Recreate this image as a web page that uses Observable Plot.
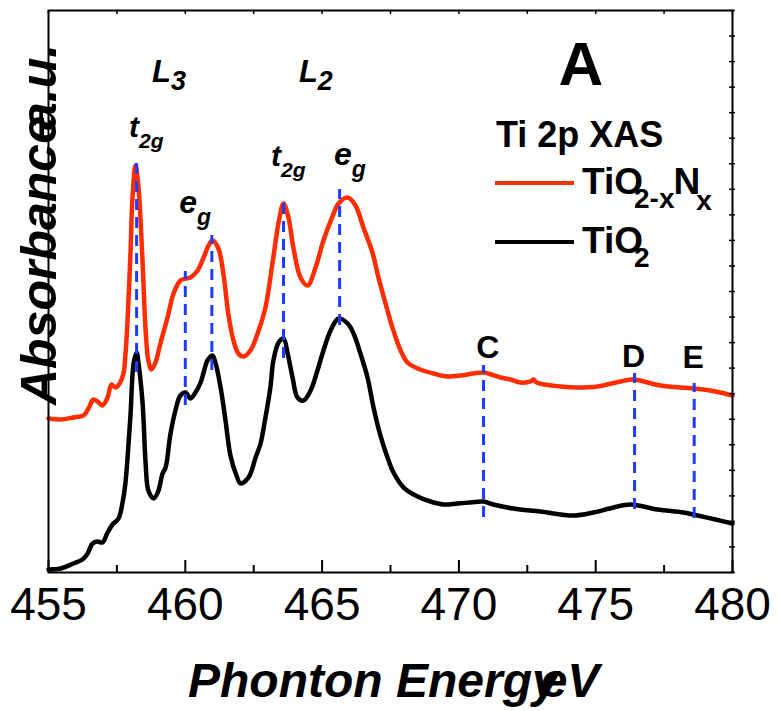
<!DOCTYPE html>
<html>
<head>
<meta charset="utf-8">
<script src="https://cdn.jsdelivr.net/npm/d3@7"></script>
<script src="https://cdn.jsdelivr.net/npm/@observablehq/plot@0.6"></script>
<style>
  body { margin: 0; background: #fff; }
  svg { display: block; }
</style>
</head>
<body>
<div id="chart"></div>
<script>
// Ti 2p XAS spectra (photon energy in eV, absorbance in arbitrary units)
const energyTiO2 = [455.00,455.44,455.91,456.24,456.43,456.61,456.79,456.97,457.16,457.34,457.56,457.70,457.81,457.89,458.00,458.11,458.22,458.29,458.44,458.55,458.65,458.84,459.00,459.17,459.28,459.46,459.64,459.82,460.01,460.19,460.37,460.56,460.67,460.81,460.99,461.10,461.29,461.47,461.65,461.87,462.02,462.31,462.57,462.75,462.93,463.11,463.22,463.41,463.59,463.74,463.92,464.10,464.32,464.58,464.83,465.05,465.31,465.60,465.93,466.15,466.40,466.66,466.88,467.13,467.39,467.61,467.98,468.49,468.96,469.44,469.95,470.42,470.90,471.26,471.99,472.98,474.19,474.92,475.65,476.27,477.26,478.21,478.72,479.38,480.00];
const absTiO2 = [0.53,0.71,1.60,2.31,3.38,5.16,5.52,5.34,7.12,8.54,9.61,12.28,15.84,20.46,28.29,37.19,39.15,37.19,30.07,19.40,14.59,13.17,14.30,17.62,18.68,24.73,28.83,31.49,32.03,30.96,32.03,33.81,35.59,37.72,38.61,37.37,32.92,27.05,20.82,17.26,15.84,16.90,20.46,22.95,27.58,32.92,37.72,40.93,41.64,38.97,34.70,31.14,30.60,32.38,35.94,39.50,43.06,45.20,44.31,42.53,38.97,34.70,29.36,24.38,20.46,17.79,15.12,13.52,12.63,12.10,12.28,12.46,12.63,12.10,11.39,10.85,10.14,10.68,11.57,12.10,11.21,10.68,10.14,9.43,8.72];

const energyTiO2N = [455.00,455.44,455.91,456.28,456.46,456.64,456.79,456.97,457.16,457.30,457.45,457.60,457.74,457.81,457.89,458.00,458.07,458.18,458.29,458.44,458.55,458.65,458.76,458.91,459.09,459.35,459.57,459.82,460.01,460.19,460.45,460.67,460.85,460.99,461.21,461.40,461.58,461.76,461.94,462.13,462.38,462.68,462.93,463.19,463.41,463.59,463.77,463.95,464.21,464.47,464.76,465.05,465.38,465.60,465.93,466.22,466.51,466.84,467.06,467.32,467.57,467.87,468.12,468.49,469.07,469.58,470.06,470.53,470.90,471.52,471.89,472.25,472.62,472.73,472.84,473.71,474.33,475.07,475.91,476.38,477.37,478.57,479.38,480.00];
const absTiO2N = [27.40,27.22,27.58,27.94,29.18,30.78,30.43,29.72,31.14,33.45,32.92,33.63,35.41,38.61,44.84,57.30,66.73,72.42,68.51,54.98,43.06,37.72,36.12,37.37,40.75,45.37,49.64,51.96,52.31,52.49,53.74,56.05,58.19,59.07,57.65,52.85,45.73,41.28,38.97,38.43,39.50,43.06,47.15,55.16,62.28,65.66,63.17,57.83,52.49,51.07,54.27,59.07,63.35,65.66,66.73,65.30,61.39,56.94,52.49,47.86,43.59,39.50,37.37,36.30,35.41,34.88,35.05,35.41,35.59,34.70,34.34,33.81,33.99,34.34,33.81,33.10,32.92,33.10,33.99,34.34,33.27,32.74,32.21,31.49];

// Marked spectral features (dashed guides)
const featureEnergy = [458.22, 460.0, 460.97, 463.59, 465.64, 470.9, 476.42, 478.6];
const featureTop    = [72.78, 53.56, 59.96, 66.55, 68.15, 36.83, 35.41, 33.63];
const featureBottom = [35.59, 29.72, 35.94, 38.08, 43.95, 9.79, 11.21, 9.61];

// Satellite feature letters
const satelliteNames  = ["C", "D", "E"];
const satelliteEnergy = [471.06, 476.38, 478.56];
const satelliteAbs    = [38.08, 36.48, 36.30];

// Axis ticks
const xTicks = [455, 460, 465, 470, 475, 480];
const xMinorTicks = [457.5, 462.5, 467.5, 472.5, 477.5];
const yTicks = d3.range(0, 22.5).map(i => i * 100 / 22);

const RED = "#ff2d00";
const BLUE = "#1e3cff";
const FONT = "'Liberation Sans', Arial, Helvetica, sans-serif";

const tio2 = energyTiO2.map((e, i) => ({e, a: absTiO2[i]}));
const tio2n = energyTiO2N.map((e, i) => ({e, a: absTiO2N[i]}));
const features = featureEnergy.map((e, i) => ({e, top: featureTop[i], bottom: featureBottom[i]}));

// tick lengths expressed in scale units (plot is 562 px tall for 100 units, 684 px wide for 25 eV)
const yPerPx = 100 / 562, xPerPx = 25 / 684;

const chart = Plot.plot({
  width: 778,
  height: 711,
  marginLeft: 48,
  marginRight: 46,
  marginTop: 10,
  marginBottom: 139,
  x: {domain: [455, 480], label: null},
  y: {domain: [0, 100], axis: null, label: null},
  style: {fontFamily: FONT, background: "white", color: "black", overflow: "visible"},
  marks: [
    Plot.line(tio2, {x: "e", y: "a", stroke: "black", strokeWidth: 4.5, curve: "catmull-rom"}),
    Plot.line(tio2n, {x: "e", y: "a", stroke: RED, strokeWidth: 4.5, curve: "catmull-rom"}),
    Plot.ruleX(features, {x: "e", y1: "bottom", y2: "top", stroke: BLUE, strokeWidth: 3, strokeDasharray: "11,7"}),
    Plot.frame({stroke: "black", strokeWidth: 2}),
    Plot.ruleX(xTicks, {y1: 0, y2: 12 * yPerPx, stroke: "black", strokeWidth: 2}),
    Plot.ruleX(xMinorTicks, {y1: 0, y2: 7 * yPerPx, stroke: "black", strokeWidth: 2}),
    Plot.ruleX([...xTicks, ...xMinorTicks], {y1: 100, y2: 100 - 4 * yPerPx, stroke: "black", strokeWidth: 1.5}),
    Plot.ruleY(yTicks, {x1: 480 - 3 * xPerPx, x2: 480 + 3 * xPerPx, stroke: "black", strokeWidth: 1.5}),
    Plot.axisX(xTicks, {tickSize: 0, tickPadding: 15, fontSize: 46, label: null, tickFormat: d => String(d)}),
    Plot.text(satelliteNames, {x: (d, i) => satelliteEnergy[i], y: (d, i) => satelliteAbs[i], text: d => d,
      fontSize: 32, fontWeight: "bold", textAnchor: "middle", lineAnchor: "bottom", fill: "black"})
  ]
});

document.getElementById("chart").appendChild(chart);

const svg = d3.select(chart);
const xs = chart.scale("x"), ys = chart.scale("y");

// text with subscript pieces; each part: {text, size, y (baseline offset), dx}
function richText(px, py, parts, opts = {}) {
  const t = svg.append("text")
    .attr("x", px).attr("y", py)
    .attr("text-anchor", opts.anchor || "start")
    .attr("font-family", FONT)
    .attr("font-weight", "bold")
    .attr("fill", "black");
  if (opts.italic) t.attr("font-style", "italic");
  if (opts.transform) t.attr("transform", opts.transform);
  for (const p of parts) {
    const s = t.append("tspan").text(p.text).attr("font-size", p.size);
    if (p.y !== undefined) s.attr("y", py + p.y);
    if (p.dx) s.attr("dx", p.dx);
  }
  return t;
}

// Edge labels
richText(xs.apply(458.80), ys.apply(87.19), [
  {text: "L", size: 31, y: 0}, {text: "3", size: 27, y: 8}], {italic: true});
richText(xs.apply(464.17), ys.apply(87.19), [
  {text: "L", size: 31, y: 0}, {text: "2", size: 27, y: 8}], {italic: true});

// Crystal-field split components
richText(xs.apply(457.96), ys.apply(77.40), [
  {text: "t", size: 30, y: 0}, {text: "2g", size: 21, y: 11}], {italic: true});
richText(xs.apply(459.80), ys.apply(63.88), [
  {text: "e", size: 32, y: 0}, {text: "g", size: 23, y: 12}], {italic: true});
richText(xs.apply(463.15), ys.apply(72.24), [
  {text: "t", size: 30, y: 0}, {text: "2g", size: 21, y: 11}], {italic: true});
richText(xs.apply(465.45), ys.apply(72.42), [
  {text: "e", size: 32, y: 0}, {text: "g", size: 23, y: 12}], {italic: true});

// Panel letter and legend
richText(581, 85, [{text: "A", size: 62}], {anchor: "middle"});
richText(496, 147, [{text: "Ti 2p XAS", size: 36}]);
svg.append("line").attr("x1", 495).attr("x2", 574).attr("y1", 183).attr("y2", 183)
  .attr("stroke", RED).attr("stroke-width", 4);
svg.append("line").attr("x1", 495).attr("x2", 574).attr("y1", 242).attr("y2", 242)
  .attr("stroke", "black").attr("stroke-width", 4);
richText(582, 194, [
  {text: "TiO", size: 37, y: 0},
  {text: "2-x", size: 28, y: 14, dx: -9},
  {text: "N", size: 37, y: 0, dx: -1},
  {text: "x", size: 28, y: 16, dx: -4}]);
richText(582, 253, [
  {text: "TiO", size: 37, y: 0},
  {text: "2", size: 28, y: 14, dx: -9}]);

// Axis titles
richText(188, 697, [
  {text: "Phonton Energy", size: 48},
  {text: "eV", size: 48, dx: -18}], {italic: true});
richText(0, 0, [
  {text: "Absorbance", size: 50},
  {text: "a.u.", size: 50, dx: -14}], {italic: true, transform: "translate(56,405) rotate(-90)"});
</script>
</body>
</html>
